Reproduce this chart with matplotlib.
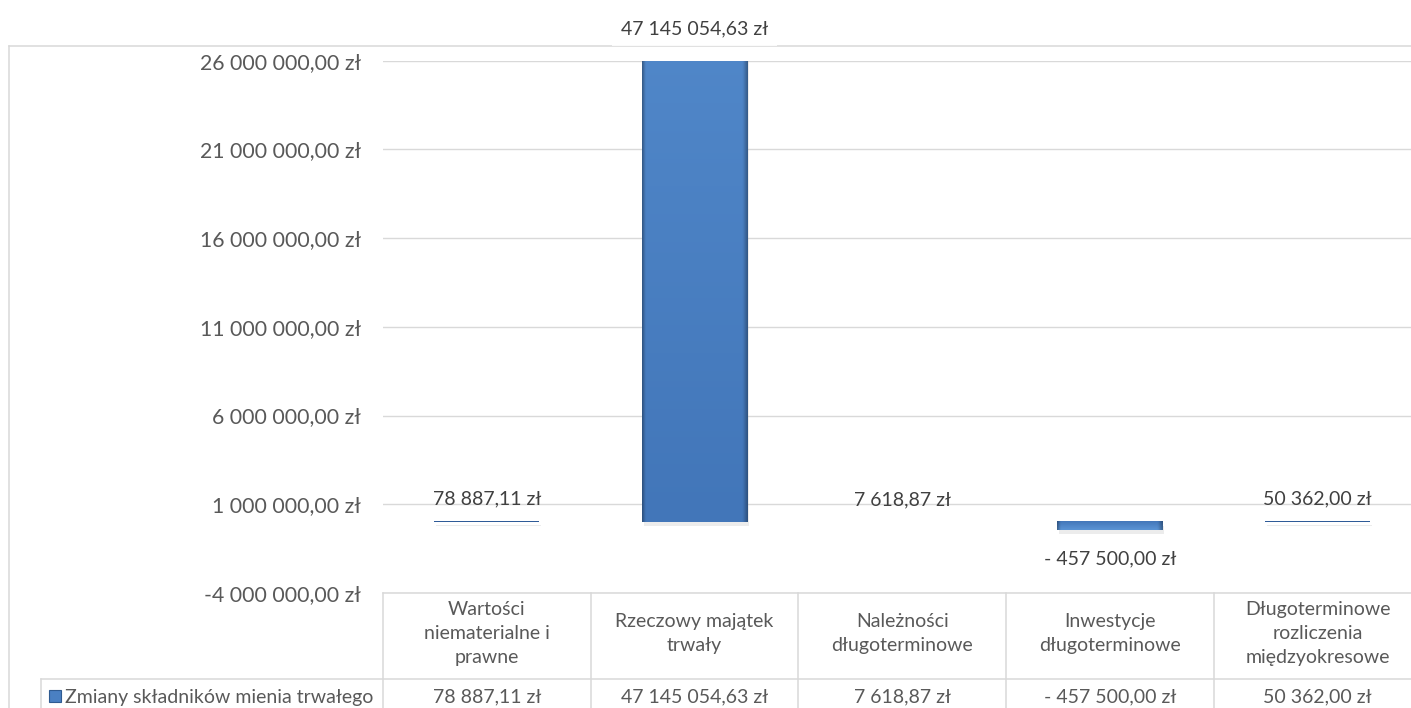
import matplotlib
matplotlib.use("Agg")
import matplotlib.pyplot as plt
import numpy as np
from matplotlib.transforms import blended_transform_factory
from matplotlib.lines import Line2D
from matplotlib.patches import Rectangle
from matplotlib.ticker import FuncFormatter
import matplotlib.patheffects as pe

# ---------------- data ----------------
categories = [
    "Wartości\nniematerialne i\nprawne",
    "Rzeczowy majątek\ntrwały",
    "Należności\ndługoterminowe",
    "Inwestycje\ndługoterminowe",
    "Długoterminowe\nrozliczenia\nmiędzyokresowe",
]
values = [78887.11, 47145054.63, 7618.87, -457500.00, 50362.00]
series_name = "Zmiany składników mienia trwałego"
y_min, y_max, y_step = -4_000_000, 26_000_000, 5_000_000

# ---------------- helpers ----------------
W, H = 1411, 708
plt.rcParams["font.family"] = ["Lato", "DejaVu Sans"]


def fmt(v, neg_space=True):
    s = f"{abs(v):,.2f}".replace(",", " ").replace(".", ",")
    if v < 0:
        return ("- " if neg_space else "-") + s + " zł"
    return s + " zł"


def fy(px):
    return 1 - px / H


def fx(px):
    return px / W


GRAY_TXT = "#595959"
DARK_TXT = "#404040"
LINE = "#d9d9d9"

fig = plt.figure(figsize=(W / 100, H / 100), dpi=100)
ax = fig.add_axes([383 / W, fy(593), (1421.5 - 383) / W, (593 - 60.7) / H])
ax.patch.set_visible(False)

x = np.arange(len(values))
bars = ax.bar(x, values, width=0.506, color="#2f5b98", linewidth=0, zorder=3)
for b in bars:
    b.set_path_effects([
        pe.SimplePatchShadow(offset=(1.2, -3.0), shadow_rgbFace="#9a9a9a", alpha=0.18),
        pe.Normal(),
    ])

ax.set_xlim(-0.5, len(values) - 0.5)
ax.set_ylim(y_min, y_max)

# gradient fill clipped to each (visibly tall) bar
nr, nc = 200, 80
t = np.linspace(0, 1, nr)[:, None, None]
top = np.array([0x5B, 0x94, 0xD5]) / 255
bot = np.array([0x42, 0x76, 0xB9]) / 255
base = top * (1 - t) + bot * t
u = np.linspace(0, 1, nc)[None, :]
edge = np.clip(1 - np.minimum(u / 0.03, (1 - u) / 0.045), 0, 1)
factor = (1 - 0.3 * edge)[..., None]
grad = np.clip(base * factor, 0, 1)
for p in bars.patches:
    bb = p.get_bbox()
    (_, py0), (_, py1) = ax.transData.transform([(0, bb.y0), (0, bb.y1)])
    if abs(py1 - py0) < 3:
        continue
    ax.imshow(grad, extent=[bb.x0, bb.x1, bb.y0, bb.y1], aspect="auto",
              origin="upper", clip_path=p, zorder=3.5, interpolation="bilinear")

ax.set_xlim(-0.5, len(values) - 0.5)
ax.set_ylim(y_min, y_max)
ax.set_yticks(np.arange(y_min, y_max + 1, y_step))
ax.yaxis.set_major_formatter(FuncFormatter(lambda v, p: fmt(v, False)))
ax.tick_params(axis="y", length=0, pad=16, labelsize=15.3, labelcolor=GRAY_TXT)
ax.tick_params(axis="x", length=0, labelbottom=False)
ax.grid(axis="y", color=LINE, lw=1.0)
ax.grid(axis="x", visible=False)
ax.set_axisbelow(True)
for s in ax.spines.values():
    s.set_visible(False)

# data labels
for xi, v in zip(x, values):
    if v > y_max:
        ax.annotate(fmt(v), xy=(xi, 1), xycoords=("data", "axes fraction"),
                    xytext=(0, 19.2), textcoords="offset points", ha="center",
                    va="baseline", fontsize=14, color=DARK_TXT, annotation_clip=False,
                    bbox=dict(boxstyle="square,pad=0.45", fc="white", ec="none", alpha=0.85))
    elif v >= 0:
        ax.annotate(fmt(v), xy=(xi, v), xytext=(0, 12.0), textcoords="offset points",
                    ha="center", va="baseline", fontsize=14, color=DARK_TXT)
    else:
        ax.annotate(fmt(v), xy=(xi, v), xytext=(0, -24.5), textcoords="offset points",
                    ha="center", va="baseline", fontsize=14, color=DARK_TXT)

# ---------------- data table ----------------
tr = blended_transform_factory(ax.transData, fig.transFigure)
lw = 1.1
for xb in np.arange(-0.5, len(values) + 0.5):
    fig.add_artist(Line2D([xb, xb], [fy(593), fy(708)], transform=tr, color=LINE, lw=lw, zorder=1))
fig.add_artist(Line2D([-0.5, len(values) - 0.5], [fy(593), fy(593)], transform=tr, color=LINE, lw=lw, zorder=1))
fig.add_artist(Line2D([fx(41), 1.01], [fy(679), fy(679)], transform=fig.transFigure, color=LINE, lw=lw, zorder=1))
fig.add_artist(Line2D([fx(41), fx(41)], [fy(679), fy(708)], transform=fig.transFigure, color=LINE, lw=lw, zorder=1))

for xi, cat, v in zip(x, categories, values):
    fig.text(xi, fy(633.5), cat, transform=tr, ha="center", va="center",
             linespacing=1.52, fontsize=14, color=GRAY_TXT)
    fig.text(xi, fy(702.5), fmt(v), transform=tr, ha="center", va="baseline",
             fontsize=14, color=GRAY_TXT)

fig.text(fx(65), fy(702.5), series_name, ha="left", va="baseline", fontsize=14, color=GRAY_TXT)
fig.add_artist(Rectangle((fx(49), fy(702)), 12 / W, 12 / H, transform=fig.transFigure,
                         fc="#4a80c2", ec="#2f5b91", lw=0.8))

# outer chart frame
fig.add_artist(Line2D([fx(9), fx(9)], [fy(46), -0.01], transform=fig.transFigure, color=LINE, lw=lw, zorder=-1))
fig.add_artist(Line2D([fx(9), 1.01], [fy(46), fy(46)], transform=fig.transFigure, color=LINE, lw=lw, zorder=-1))

fig.savefig("out.png", dpi=100)
